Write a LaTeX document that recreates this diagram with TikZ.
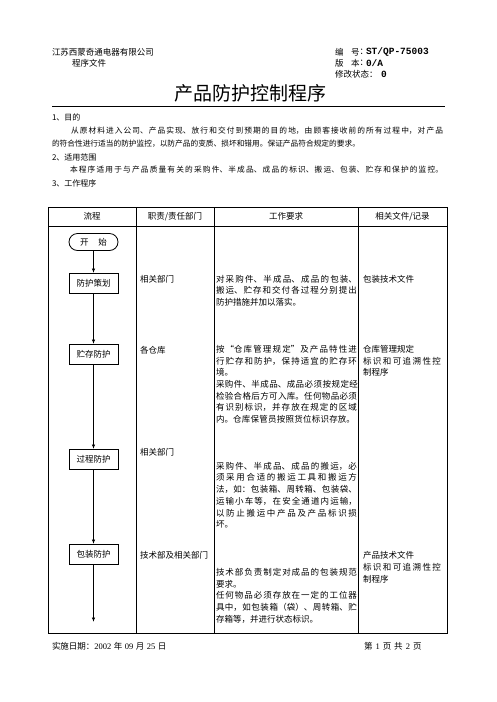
\documentclass[tikz,border=0pt]{standalone}
\usepackage{fontspec}
\setmainfont{Noto Sans CJK SC}
\newfontfamily\latinmono{Liberation Mono}
\newfontfamily\latinserif{Liberation Serif}
\usetikzlibrary{arrows.meta,shapes.misc}
\XeTeXlinebreaklocale "zh"
\XeTeXlinebreakskip=0pt plus 4pt
\newcommand{\jl}[2]{\parbox[t]{#1pt}{\tolerance=10000\hbadness=10000\parfillskip=0pt\relax #2}}
\begin{document}
\begin{tikzpicture}[x=1pt,y=-1pt,
  every node/.style={inner sep=0pt,outer sep=0pt},
  hd/.style={anchor=west,font=\fontsize{8.5}{10}\selectfont},
  para/.style={anchor=west,font=\fontsize{7.7}{10}\selectfont},
  blk/.style={anchor=north west,align=left,font=\fontsize{8.5}{11.7}\selectfont},
  colhead/.style={font=\fontsize{8.5}{10}\selectfont},
  flowbox/.style={draw,line width=0.8pt,minimum width=49pt,minimum height=20pt,font=\fontsize{8.5}{10}\selectfont},
  startbox/.style={draw,rounded rectangle,line width=0.8pt,minimum width=49pt,minimum height=17pt,font=\fontsize{8.5}{10}\selectfont},
  arr/.style={-{Latex[length=4.5pt,width=3.5pt]},line width=0.8pt},
  rule/.style={line width=0.8pt},
  lat/.style={anchor=west,font=\latinmono\bfseries\fontsize{9.5}{10}\selectfont}]
\useasboundingbox (0,0) rectangle (496,702);
\fill[white] (0,0) rectangle (496,702);

% header
\node[hd] (co) at (52,52) {江苏西蒙奇通电器有限公司};
\node[hd] (pf) at (72,63) {程序文件};
\node[hd] (l1a) at (335,52) {编};
\node[hd] (l1b) at (351,52) {号};
\node[hd] (l1k) at (359.5,52) {：};
\node[lat] (l1c) at (366,52) {ST/QP-75003};
\node[hd] (l2a) at (335,63) {版};
\node[hd] (l2b) at (351,63) {本};
\node[hd] (l2k) at (359.5,63) {：};
\node[lat] (l2c) at (366,63) {0/A};
\node[hd] (l3a) at (335,74) {修改状态：};
\node[lat] (l3c) at (381,74) {0};
\node[font=\fontsize{19}{20}\selectfont] (title) at (250.5,93) {产品防护控制程序};
\coordinate (ra) at (52,106);
\coordinate (rb) at (445,106);
\draw[line width=1pt] (ra) -- (rb);

% sections
\node[para,font=\fontsize{8}{10}\selectfont] (s1) at (52,117) {1、目的};
\node[para] (p1) at (71,131) {\jl{372}{从原材料进入公司、产品实现、放行和交付到预期的目的地，由顾客接收前的所有过程中，对产品}};
\node[para] (p2) at (52,144) {的符合性进行适当的防护监控，以防产品的变质、损坏和错用。保证产品符合规定的要求。};
\node[para,font=\fontsize{8}{10}\selectfont] (s2) at (52,157) {2、适用范围};
\node[para] (p3) at (70,170) {\jl{373}{本程序适用于与产品质量有关的采购件、半成品、成品的标识、搬运、包装、贮存和保护的监控。}};
\node[para,font=\fontsize{8}{10}\selectfont] (s3) at (52,183) {3、工作程序};

% table
\draw[rule] (48,207) rectangle (447,633);
\draw[rule] (48,226) -- (447,226);
\draw[rule] (136,207) -- (136,633);
\draw[rule] (214,207) -- (214,633);
\draw[rule] (358,207) -- (358,633);
\node[colhead] (h1) at (92,216.5) {流程};
\node[colhead] (h2) at (175,216.5) {职责/责任部门};
\node[colhead] (h3) at (286,216.5) {工作要求};
\node[colhead] (h4) at (402.5,216.5) {相关文件/记录};

% flow
\node[startbox] (st) at (93.5,242) {开\hspace{10pt}始};
\node[flowbox] (b1) at (93.5,283) {防护策划};
\node[flowbox] (b2) at (93.5,354) {贮存防护};
\node[flowbox] (b3) at (93.5,459) {过程防护};
\node[flowbox] (b4) at (93.5,554) {包装防护};
\coordinate (end) at (93.5,622);
\draw[arr] (st) -- (b1);
\draw[arr] (b1) -- (b2);
\draw[arr] (b2) -- (b3);
\draw[arr] (b3) -- (b4);
\draw[arr] (b4) -- (end);

% column 2
\node[hd] (d1) at (140,279) {相关部门};
\node[hd] (d2) at (140,350) {各仓库};
\node[hd] (d3) at (140,452) {相关部门};
\node[hd] (d4) at (140,555) {技术部及相关部门};

% column 3
\node[blk] (w1) at (216,275.1) {\jl{141}{对采购件、半成品、成品的包装、}\\
\jl{141}{搬运、贮存和交付各过程分别提出}\\
防护措施并加以落实。};
\node[blk] (w2) at (216,345.1) {\jl{141}{按“仓库管理规定”及产品特性进}\\
\jl{141}{行贮存和防护，保持适宜的贮存环}\\
境。\\
\jl{142}{采购件、半成品、成品必须按规定经}\\
\jl{141}{检验合格后方可入库。任何物品必须}\\
\jl{141}{有识别标识，并存放在规定的区域}\\
\jl{139}{内。仓库保管员按照货位标识存放。}};
\node[blk] (w3) at (216,462.1) {\jl{141}{采购件、半成品、成品的搬运，必}\\
\jl{141}{须采用合适的搬运工具和搬运方}\\
\jl{141}{法，如：包装箱、周转箱、包装袋、}\\
\jl{141}{运输小车等，在安全通道内运输，}\\
\jl{141}{以防止搬运中产品及产品标识损}\\
坏。};
\node[blk] (w4) at (216,568.1) {\jl{141}{技术部负责制定对成品的包装规范}\\
要求。\\
\jl{141}{任何物品必须存放在一定的工位器}\\
\jl{141}{具中，如包装箱（袋）、周转箱、贮}\\
存箱等，并进行状态标识。};

% column 4
\node[hd] (r1) at (363,279) {包装技术文件};
\node[blk] (r2) at (363,345.1) {仓库管理规定\\
\jl{78}{标识和可追溯性控}\\
制程序};
\node[blk,font=\fontsize{8.5}{12.3}\selectfont] (r4) at (363,551.1) {产品技术文件\\
\jl{78}{标识和可追溯性控}\\
制程序};

% footer
\node[hd] (f1) at (52,646) {实施日期：{\latinserif 2002}\hspace{2.5pt}年\hspace{2.5pt}{\latinserif 09}\hspace{2.5pt}月\hspace{2.5pt}{\latinserif 25}\hspace{2.5pt}日};
\node[hd] (f2) at (364,646) {第\hspace{3pt}{\latinserif 1}\hspace{3pt}页\hspace{3pt}共\hspace{3pt}{\latinserif 2}\hspace{3pt}页};
\end{tikzpicture}
\end{document}
